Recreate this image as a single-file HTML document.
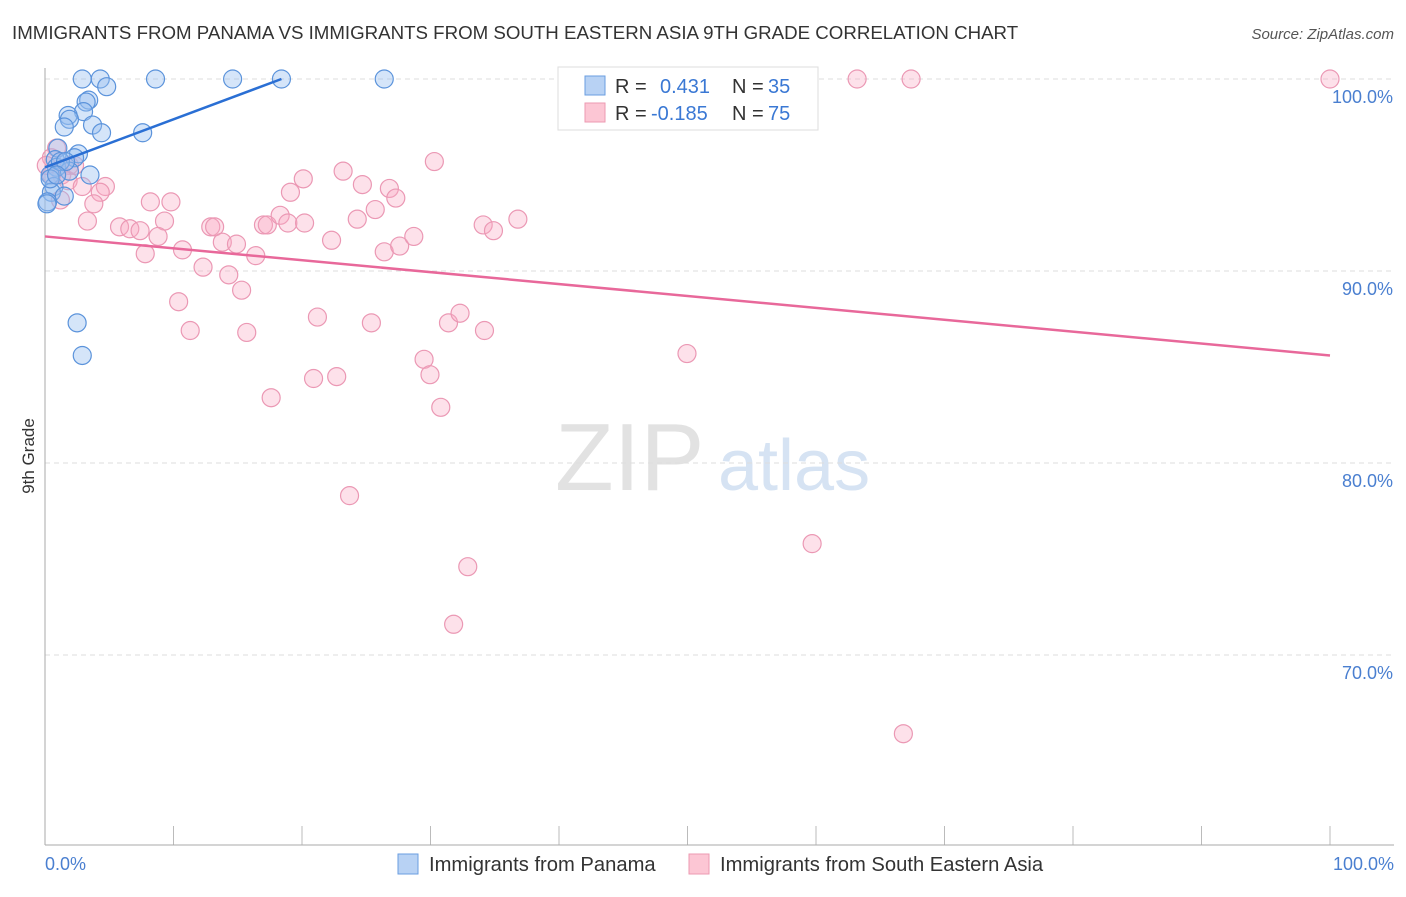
<!DOCTYPE html>
<html><head><meta charset="utf-8"><style>
body{margin:0;background:#fff;font-family:"Liberation Sans",sans-serif;}
svg text{font-family:"Liberation Sans",sans-serif;}
</style></head><body>
<svg id="chart" width="1406" height="892" xmlns="http://www.w3.org/2000/svg">
<text x="12" y="39" font-size="18.7" fill="#333">IMMIGRANTS FROM PANAMA VS IMMIGRANTS FROM SOUTH EASTERN ASIA 9TH GRADE CORRELATION CHART</text>
<text x="1394" y="39" font-size="15" fill="#555" font-style="italic" text-anchor="end">Source: ZipAtlas.com</text>
<text x="555" y="490" font-size="96" fill="#e2e2e2" font-family="Liberation Serif">ZIP</text>
<text x="718" y="490" font-size="72" fill="#d6e3f3">atlas</text>
<g id="grid"></g>
<line x1="45" y1="68" x2="45" y2="845" stroke="#aaa"/>
<line x1="45" y1="845" x2="1394" y2="845" stroke="#aaa"/>
<text transform="translate(34,456) rotate(-90)" font-size="17" fill="#333" text-anchor="middle">9th Grade</text>
<text x="45" y="870" font-size="18" fill="#4a7fd0">0.0%</text>
<text x="1394" y="870" font-size="18" fill="#4a7fd0" text-anchor="end">100.0%</text>
<g id="pts"></g>
<g id="lines"></g>
<g>
<rect x="558" y="67" width="260" height="63" fill="#fff" stroke="#ddd"/>
<rect x="585" y="76" width="20" height="19" fill="#b8d2f4" stroke="#6a9ee0"/>
<rect x="585" y="103" width="20" height="19" fill="#fcc6d4" stroke="#ec9ab2"/>
<text x="615" y="93" font-size="20" fill="#333">R = </text><text x="660" y="93" font-size="20" fill="#3a78d4">0.431</text>
<text x="732" y="93" font-size="20" fill="#333">N = </text><text x="768" y="93" font-size="20" fill="#3a78d4">35</text>
<text x="615" y="120" font-size="20" fill="#333">R = </text><text x="651" y="120" font-size="20" fill="#3a78d4">-0.185</text>
<text x="732" y="120" font-size="20" fill="#333">N = </text><text x="768" y="120" font-size="20" fill="#3a78d4">75</text>
</g>
<g>
<rect x="398" y="854" width="20" height="20" fill="#b8d2f4" stroke="#6a9ee0"/>
<text x="429" y="871" font-size="20.2" fill="#333">Immigrants from Panama</text>
<rect x="689" y="854" width="20" height="20" fill="#fcc6d4" stroke="#ec9ab2"/>
<text x="720" y="871" font-size="20.2" fill="#333">Immigrants from South Eastern Asia</text>
</g>
</svg>
<script>
const yTicks=[100,90,80,70];
const xTickVals=[0,10,20,30,40,50,60,70,80,90,100];
const blueX=[2.9,4.3,8.6,14.6,18.4,26.4,4.8,3.4,3.2,3.0,1.8,1.9,1.5,3.7,4.4,7.6,2.6,2.3,1.0,0.8,0.9,0.4,1.9,3.5,0.7,0.5,1.5,0.2,0.15,2.5,2.9,1.2,0.4,1.6,0.9];
const blueY=[100,100,100,100,100,100,99.6,98.9,98.8,98.3,98.1,97.9,97.5,97.6,97.2,97.2,96.1,95.9,96.4,95.8,95.4,95.0,95.2,95.0,94.4,94.1,93.9,93.6,93.5,87.3,85.6,95.7,94.8,95.7,95.0];
const pinkX=[63.2,67.4,100,0.9,0.5,1.9,1.3,1.8,2.9,4.7,4.3,3.8,3.3,8.2,9.8,9.3,5.8,6.6,7.4,8.8,7.8,10.7,12.3,12.9,13.2,13.8,14.9,14.3,16.4,15.3,10.4,11.3,15.7,17.0,17.3,18.3,19.1,20.1,18.9,20.2,22.3,23.2,24.3,24.7,25.7,26.8,27.3,26.4,27.6,28.7,30.3,34.1,34.9,36.8,21.2,25.4,31.4,32.3,34.2,20.9,22.7,29.5,29.96,30.8,17.6,23.7,32.9,31.8,49.96,59.7,66.8,0.5,1.2,2.3,0.1];
const pinkY=[100,100,100,96.4,95.9,95.5,95.0,94.7,94.4,94.4,94.1,93.5,92.6,93.6,93.6,92.6,92.3,92.2,92.1,91.8,90.9,91.1,90.2,92.3,92.3,91.5,91.4,89.8,90.8,89.0,88.4,86.9,86.8,92.4,92.4,92.9,94.1,94.8,92.5,92.5,91.6,95.2,92.7,94.5,93.2,94.3,93.8,91.0,91.3,91.8,95.7,92.4,92.1,92.7,87.6,87.3,87.3,87.8,86.9,84.4,84.5,85.4,84.6,82.9,83.4,78.3,74.6,71.6,85.7,75.8,65.9,95.0,93.7,95.5,95.5];
const blueLine=[0,95.4,18.4,100];
const pinkLine=[0,91.8,100,85.6];
const X=v=>45+v*12.85, Y=v=>79+(100-v)*19.2;
const NS='http://www.w3.org/2000/svg';
const grid=document.getElementById('grid');
for(const t of yTicks){
 const l=document.createElementNS(NS,'line');
 l.setAttribute('x1',45);l.setAttribute('x2',1394);l.setAttribute('y1',Y(t));l.setAttribute('y2',Y(t));
 l.setAttribute('stroke','#ddd');l.setAttribute('stroke-dasharray','5,4');
 
 
 grid.appendChild(l);
 const tx=document.createElementNS(NS,'text');
 tx.setAttribute('x',1393);tx.setAttribute('y',Y(t)+24);tx.setAttribute('text-anchor','end');
 tx.setAttribute('font-size','18');tx.setAttribute('fill','#4a7fd0');tx.textContent=t.toFixed(1)+'%';
 
 
 grid.appendChild(tx);
}
for(const t of xTickVals){
 const l=document.createElementNS(NS,'line');
 l.setAttribute('x1',X(t));l.setAttribute('x2',X(t));l.setAttribute('y1',826);l.setAttribute('y2',845);
 l.setAttribute('stroke','#bbb');
 
 
 grid.appendChild(l);
}
const pts=document.getElementById('pts');
function dots(xs,ys,fill,stroke,name){
 xs.forEach((x,i)=>{
  const c=document.createElementNS(NS,'circle');
  c.setAttribute('cx',X(x));c.setAttribute('cy',Y(ys[i]));c.setAttribute('r',9);
  c.setAttribute('fill',fill);c.setAttribute('stroke',stroke);c.setAttribute('stroke-width','1.2');
  
  
  pts.appendChild(c);
 });
}
dots(pinkX,pinkY,'rgba(248,170,195,0.35)','#eb98b4','point-south-eastern-asia');
dots(blueX,blueY,'rgba(150,190,240,0.4)','#5b93db','point-panama');
const lines=document.getElementById('lines');
function ln(a,col,name){
 const l=document.createElementNS(NS,'line');
 l.setAttribute('x1',X(a[0]));l.setAttribute('y1',Y(a[1]));l.setAttribute('x2',X(a[2]));l.setAttribute('y2',Y(a[3]));
 l.setAttribute('stroke',col);l.setAttribute('stroke-width','2.5');
 
 
 lines.appendChild(l);
}
ln(blueLine,'#2a6fd4','trend-line-panama');
ln(pinkLine,'#e8689a','trend-line-south-eastern-asia');
</script>
</body></html>
